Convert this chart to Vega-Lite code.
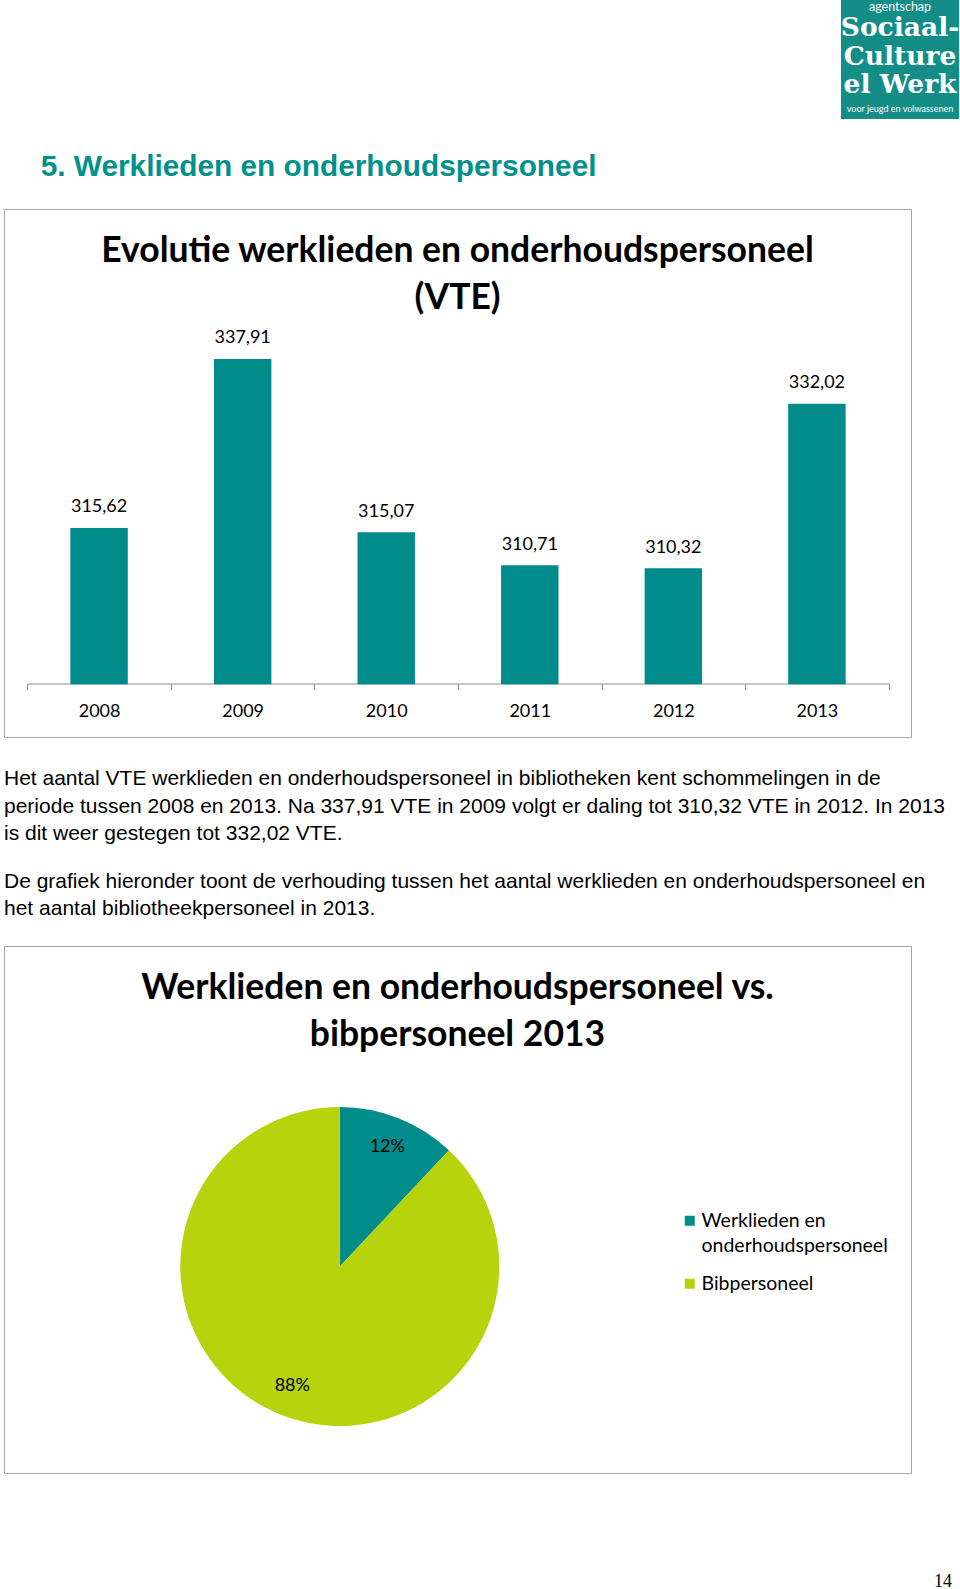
{
  "$schema": "https://vega.github.io/schema/vega-lite/v6.json",
  "background": "white",
  "padding": {"left": 3, "top": 0, "right": 0, "bottom": 0},
  "spacing": 0,
  "config": {
    "view": {"stroke": null},
    "locale": {"number": {"decimal": ",", "thousands": ".", "grouping": [3], "currency": ["€", ""]}},
    "title": {"offset": 0},
    "style": {"guide-label": {"lineHeight": 25}}
  },
  "vconcat": [
    {
      "spacing": 0,
      "hconcat": [
        {
          "width": 836,
          "height": 208,
          "data": {"values": []},
          "mark": {"type": "point", "opacity": 0},
          "title": {"text": "5. Werklieden en onderhoudspersoneel", "orient": "top", "anchor": "start", "frame": "group", "offset": 0, "baseline": "alphabetic", "dx": 36.7, "dy": 205.5, "font": "Liberation Sans", "fontSize": 29.8, "fontWeight": "bold", "color": "#00918B"}
        },
        {
          "width": 118,
          "height": 119,
          "view": {"fill": "#138D86", "stroke": null},
          "data": {"values": [
            {"line": "agentschap", "kind": "top"},
            {"line": "Sociaal-", "kind": "big"},
            {"line": "Culture", "kind": "big"},
            {"line": "el Werk", "kind": "big"},
            {"line": "voor jeugd en volwassenen", "kind": "bottom"}
          ]},
          "encoding": {
            "y": {"field": "line", "type": "ordinal", "scale": {"type": "point", "domain": ["agentschap", "Sociaal-", "Culture", "el Werk", "voor jeugd en volwassenen"], "padding": 0.1}, "axis": null},
            "text": {"field": "line"}
          },
          "layer": [
            {"transform": [{"filter": "datum.kind === 'top'"}], "mark": {"type": "text", "font": "Lato", "fontSize": 12.5, "color": "white", "baseline": "alphabetic", "dy": 8.5}},
            {"transform": [{"filter": "datum.kind === 'big'"}], "mark": {"type": "text", "font": "DejaVu Serif", "fontSize": 26.5, "fontWeight": "bold", "color": "white", "baseline": "alphabetic", "dy": 5}},
            {"transform": [{"filter": "datum.kind === 'bottom'"}], "mark": {"type": "text", "font": "Lato", "fontSize": 9, "color": "white", "baseline": "alphabetic", "dy": -4.5}}
          ]
        }
      ]
    },
    {
      "width": 907,
      "height": 528,
      "view": {"stroke": "#a6a6a6", "strokeWidth": 1},
      "title": {"text": ["Evolutie werklieden en onderhoudspersoneel", "(VTE)"], "orient": "top", "anchor": "middle", "frame": "group", "offset": 0, "baseline": "alphabetic", "dy": 135.3, "lineHeight": 47, "font": "Lato", "fontSize": 35.5, "fontWeight": "bold", "color": "black"},
      "data": {"values": [
        {"jaar": "2008", "vte": 315.62},
        {"jaar": "2009", "vte": 337.91},
        {"jaar": "2010", "vte": 315.07},
        {"jaar": "2011", "vte": 310.71},
        {"jaar": "2012", "vte": 310.32},
        {"jaar": "2013", "vte": 332.02}
      ]},
      "encoding": {
        "x": {
          "field": "jaar",
          "type": "ordinal",
          "scale": {"type": "band", "range": [23.3, 884.7], "paddingInner": 0, "paddingOuter": 0},
          "axis": {"orient": "bottom", "offset": -53.5, "title": null, "labelAngle": 0, "labelFont": "Lato", "labelFontSize": 18, "labelColor": "black", "labelBaseline": "alphabetic", "labelPadding": 27.2, "tickSize": 6, "tickColor": "#8c8c8c", "domainColor": "#8c8c8c", "tickBand": "extent", "grid": false}
        },
        "y": {"field": "vte", "type": "quantitative", "scale": {"domain": [288.05, 357.69], "zero": false, "nice": false}, "axis": null}
      },
      "layer": [
        {"mark": {"type": "bar", "color": "#008C8A", "width": {"band": 0.4}}, "encoding": {"y2": {"datum": 295}}},
        {"mark": {"type": "text", "font": "Lato", "fontSize": 18, "color": "black", "baseline": "alphabetic", "dy": -15.5}, "encoding": {"text": {"field": "vte", "type": "quantitative", "format": ".2f"}}}
      ]
    },
    {
      "width": 907,
      "height": 207,
      "data": {"values": []},
      "mark": {"type": "point", "opacity": 0},
      "title": {
        "text": ["Het aantal VTE werklieden en onderhoudspersoneel in bibliotheken kent schommelingen in de", "periode tussen 2008 en 2013. Na 337,91 VTE in 2009 volgt er daling tot 310,32 VTE in 2012. In 2013", "is dit weer gestegen tot 332,02 VTE."],
        "subtitle": ["De grafiek hieronder toont de verhouding tussen het aantal werklieden en onderhoudspersoneel en", "het aantal bibliotheekpersoneel in 2013."],
        "orient": "top", "anchor": "start", "frame": "group", "offset": 0, "baseline": "alphabetic", "dx": 0, "dy": 198.5,
        "font": "Liberation Sans", "fontSize": 21, "fontWeight": "normal", "color": "black", "lineHeight": 27.4,
        "subtitleFont": "Liberation Sans", "subtitleFontSize": 21, "subtitleColor": "black", "subtitleLineHeight": 27.4, "subtitlePadding": 27
      }
    },
    {
      "width": 907,
      "height": 527,
      "view": {"stroke": "#a6a6a6", "strokeWidth": 1},
      "title": {"text": ["Werklieden en onderhoudspersoneel vs.", "bibpersoneel 2013"], "orient": "top", "anchor": "middle", "frame": "group", "offset": 0, "baseline": "alphabetic", "dy": 135.3, "lineHeight": 47, "font": "Lato", "fontSize": 35.5, "fontWeight": "bold", "color": "black"},
      "data": {"values": [
        {"groep": "Werklieden en onderhoudspersoneel", "aandeel": 0.12},
        {"groep": "Bibpersoneel", "aandeel": 0.88}
      ]},
      "encoding": {
        "theta": {"field": "aandeel", "type": "quantitative", "stack": true},
        "order": {"field": "aandeel", "type": "quantitative", "sort": "ascending"},
        "color": {
          "field": "groep",
          "type": "nominal",
          "scale": {"domain": ["Werklieden en onderhoudspersoneel", "Bibpersoneel"], "range": ["#008C8A", "#B6D30E"]},
          "legend": {"orient": "none", "legendX": 676, "legendY": 1211, "title": null, "symbolType": "square", "symbolSize": 100, "symbolStrokeWidth": 0, "labelFont": "Lato", "labelFontSize": 19.5, "labelColor": "black", "labelOffset": 2, "labelLimit": 400, "rowPadding": 17, "labelExpr": "datum.label === 'Werklieden en onderhoudspersoneel' ? ['Werklieden en', 'onderhoudspersoneel'] : datum.label"}
        }
      },
      "layer": [
        {"mark": {"type": "arc", "radius": 159.5, "x": 335.8, "y": 320.5}},
        {"mark": {"type": "text", "radius": 129, "x": 335.8, "y": 320.5, "font": "Lato", "fontSize": 18}, "encoding": {"text": {"field": "aandeel", "type": "quantitative", "format": ".0%"}, "color": {"value": "black"}}}
      ]
    },
    {
      "width": 948,
      "height": 115,
      "data": {"values": []},
      "mark": {"type": "point", "opacity": 0},
      "title": {"text": "14", "orient": "top", "anchor": "end", "frame": "group", "offset": 0, "baseline": "alphabetic", "dy": 130.7, "font": "Liberation Serif", "fontSize": 18, "fontWeight": "normal", "color": "black"}
    }
  ]
}
